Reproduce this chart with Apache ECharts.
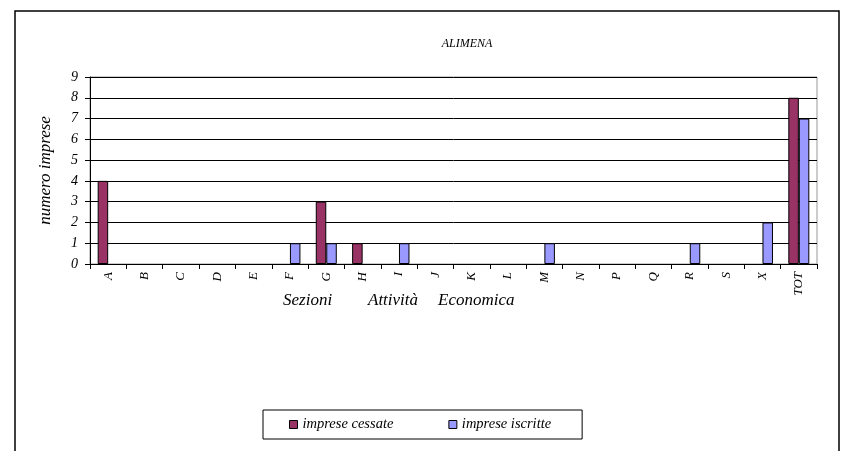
<!DOCTYPE html>
<html><head><meta charset="utf-8">
<script src="https://cdn.jsdelivr.net/npm/echarts@6/dist/echarts.min.js"></script>
<style>html,body{margin:0;padding:0;background:#fff}#c{width:843px;height:451px}</style>
</head><body><div id="c"></div>
<script>
const categories = ['A','B','C','D','E','F','G','H','I','J','K','L','M','N','P','Q','R','S','X','TOT'];
const cessate   = [4,0,0,0,0,0,3,1,0,0,0,0,0,0,0,0,0,0,0,8];
const iscritte  = [0,0,0,0,0,1,1,0,1,0,0,0,1,0,0,0,1,0,2,7];
const yTicks = [0,1,2,3,4,5,6,7,8,9];
const FONT = '"Liberation Serif","Times New Roman",serif';
const hideZero = arr => arr.map(v => v === 0 ? '-' : v);

const chart = echarts.init(document.getElementById('c'), null, {renderer:'canvas'});
chart.setOption({
  animation:false,
  backgroundColor:'#fff',
  title:{text:'ALIMENA', left:462, top:33, textAlign:'center',
    textStyle:{fontFamily:FONT, fontStyle:'italic', fontWeight:'normal', fontSize:12, color:'#000'}},
  grid:{left:90, right:26, top:77, bottom:187, show:true, borderColor:'#999', borderWidth:1},
  legend:{
    left:263, top:410, orient:'horizontal', icon:'rect', itemWidth:8, itemHeight:8, itemGap:55,
    padding:[7,31,7,26], borderColor:'#000', borderWidth:1,
    textStyle:{fontFamily:FONT, fontStyle:'italic', fontSize:14.5, color:'#000'},
    itemStyle:{borderColor:'#000', borderWidth:1},
    data:['imprese cessate','imprese iscritte']
  },
  xAxis:{
    type:'category', data:categories, boundaryGap:true,
    axisLine:{lineStyle:{color:'#000', width:1}},
    axisTick:{show:true, length:5, lineStyle:{color:'#000'}, alignWithLabel:false},
    axisLabel:{rotate:90, interval:0, fontFamily:FONT, fontStyle:'italic', fontSize:13, color:'#000', margin:8},
    splitLine:{show:false}
  },
  yAxis:{
    type:'value', min:0, max:9, interval:1,
    name:'numero imprese', nameLocation:'middle', nameGap:36, nameRotate:90,
    nameTextStyle:{fontFamily:FONT, fontStyle:'italic', fontSize:17, color:'#000'},
    axisLine:{show:true, lineStyle:{color:'#000', width:1}},
    axisTick:{show:true, length:5, lineStyle:{color:'#000'}},
    axisLabel:{fontFamily:FONT, fontStyle:'italic', fontSize:14, color:'#000', margin:12,
      formatter:v=>yTicks.includes(v)?String(v):''},
    splitLine:{show:true, lineStyle:{color:'#000', width:1}}
  },
  graphic:[
    {type:'rect', shape:{x:15, y:11, width:824, height:460}, style:{fill:'none', stroke:'#000', lineWidth:1.5}, silent:true},
    {type:'text', left:283, top:292, style:{text:'Sezioni', font:'italic 17px '+FONT, fill:'#000'}},
    {type:'text', left:368, top:292, style:{text:'Attività', font:'italic 17px '+FONT, fill:'#000'}},
    {type:'text', left:438, top:292, style:{text:'Economica', font:'italic 17px '+FONT, fill:'#000'}}
  ],
  series:[
    {name:'imprese cessate', type:'bar', data:hideZero(cessate), barWidth:10.5, barGap:'0%',
      itemStyle:{color:'#993366', borderColor:'#000', borderWidth:1}},
    {name:'imprese iscritte', type:'bar', data:hideZero(iscritte), barWidth:10.5, barGap:'0%',
      itemStyle:{color:'#9999FF', borderColor:'#000', borderWidth:1}}
  ]
});
</script></body></html>
